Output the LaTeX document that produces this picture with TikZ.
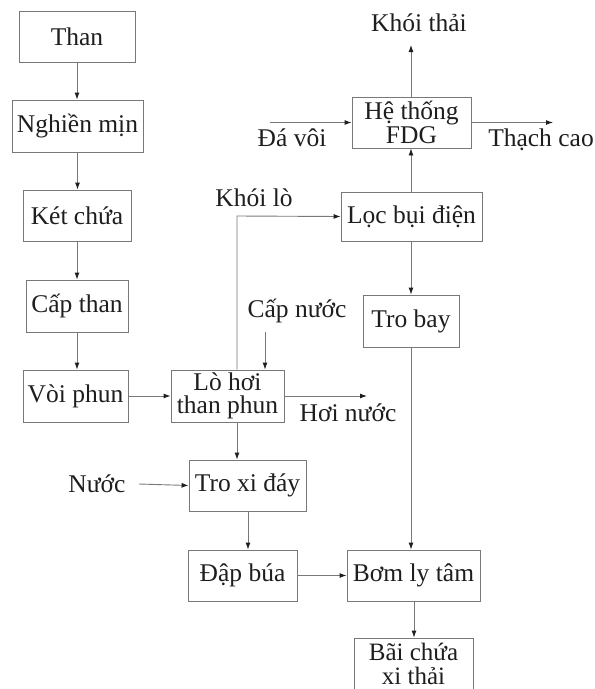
\documentclass[tikz,border=0pt]{standalone}
\usepackage{fontspec}
\setmainfont{Liberation Serif}
\usetikzlibrary{arrows.meta}
\definecolor{linegray}{RGB}{120,120,120}
\definecolor{inkgray}{RGB}{30,30,30}
\begin{document}
\begin{tikzpicture}[x=1pt,y=-1pt,
  every node/.style={text=inkgray,font=\fontsize{25.5}{23.5}\selectfont},
  box/.style={draw=linegray,line width=0.9pt,minimum height=51pt,inner sep=0pt,align=center},
  lbl/.style={inner sep=0pt},
  flow/.style={draw=linegray,line width=0.9pt,-{Latex[length=7pt,width=5pt,color=inkgray]}}]
\useasboundingbox (0,0) rectangle (595,689);

% coal preparation column
\node[box,minimum width=116pt] (than) at (77,36.5) {Than};
\node[box,minimum width=131pt,minimum height=52pt] (nghien) at (77.5,126) {Nghiền mịn};
\node[box,minimum width=108pt] (ketchua) at (77,215.5) {Két chứa};
\node[box,minimum width=102pt,minimum height=52pt] (capthan) at (77,306) {Cấp than};
\node[box,minimum width=105pt,minimum height=52pt] (voiphun) at (75.5,396) {Vòi phun};

% boiler and bottom ash
\node[box,minimum width=113pt,minimum height=52pt] (lohoi) at (227.5,396) {Lò hơi\\than phun};
\node[box,minimum width=117pt] (troxi) at (247.5,485.5) {Tro xi đáy};
\node[box,minimum width=109pt] (dapbua) at (242.5,575.5) {Đập búa};

% flue gas line
\node[box,minimum width=141pt,minimum height=49pt] (locbui) at (411.5,216.5) {Lọc bụi điện};
\node[box,minimum width=119pt] (fdg) at (411.5,122.5) {Hệ thống\\FDG};
\node[box,minimum width=96pt,minimum height=52pt] (trobay) at (411,321) {Tro bay};
\node[box,minimum width=133pt] (bom) at (413.5,575.5) {Bơm ly tâm};
\node[box,minimum width=119pt,minimum height=52pt,
      font=\fontsize{25}{23.5}\selectfont] (bai) at (413.5,664) {Bãi chứa\\xi thải};

% free labels
\node[lbl] (khoithai) at (419,23) {Khói thải};
\node[lbl] (davoi) at (292,138) {Đá vôi};
\node[lbl] (thachcao) at (541,140) {Thạch cao};
\node[lbl] (khoilo) at (254,198) {Khói lò};
\node[lbl] (capnuoc) at (297,311) {Cấp nước};
\node[lbl] (hoinuoc) at (348,413) {Hơi nước};
\node[lbl] (nuoc) at (97,484) {Nước};

% loose ends of connectors
\coordinate (riser) at (237,216);
\coordinate (topout) at (411,45);
\coordinate (limein) at (270,122.5);
\coordinate (gypout) at (553,122.5);
\coordinate (waterin) at (265,332);
\coordinate (steamout) at (367,396);
\coordinate (nuocin) at (139,484);

% coal preparation arrows
\draw[flow] (than.south) -- (than.south |- nghien.north);
\draw[flow] (nghien.south) -- (nghien.south |- ketchua.north);
\draw[flow] (ketchua.south) -- (ketchua.south |- capthan.north);
\draw[flow] (capthan.south) -- (capthan.south |- voiphun.north);
\draw[flow] (voiphun.east) -- (lohoi.west);

% boiler connections
\draw[flow] (lohoi.north -| riser) -- (riser) -- (locbui.west);
\draw[flow] (waterin) -- (waterin |- lohoi.north);
\draw[flow] (lohoi.east) -- (steamout);
\draw[flow] (lohoi.south -| riser) -- (troxi.north -| riser);
\draw[flow] (nuocin) -- (troxi.west);
\draw[flow] (troxi.south -| 248,0) -- (dapbua.north -| 248,0);
\draw[flow] (dapbua.east) -- (bom.west);

% flue gas arrows
\draw[flow] (locbui.north -| topout) -- (fdg.south -| topout);
\draw[flow] (fdg.north -| topout) -- (topout);
\draw[flow] (limein) -- (fdg.west);
\draw[flow] (fdg.east) -- (gypout);
\draw[flow] (locbui.south -| topout) -- (trobay.north -| topout);
\draw[flow] (trobay.south -| topout) -- (bom.north -| topout);
\draw[flow] (bom.south -| 414,0) -- (bai.north -| 414,0);
\end{tikzpicture}
\end{document}
